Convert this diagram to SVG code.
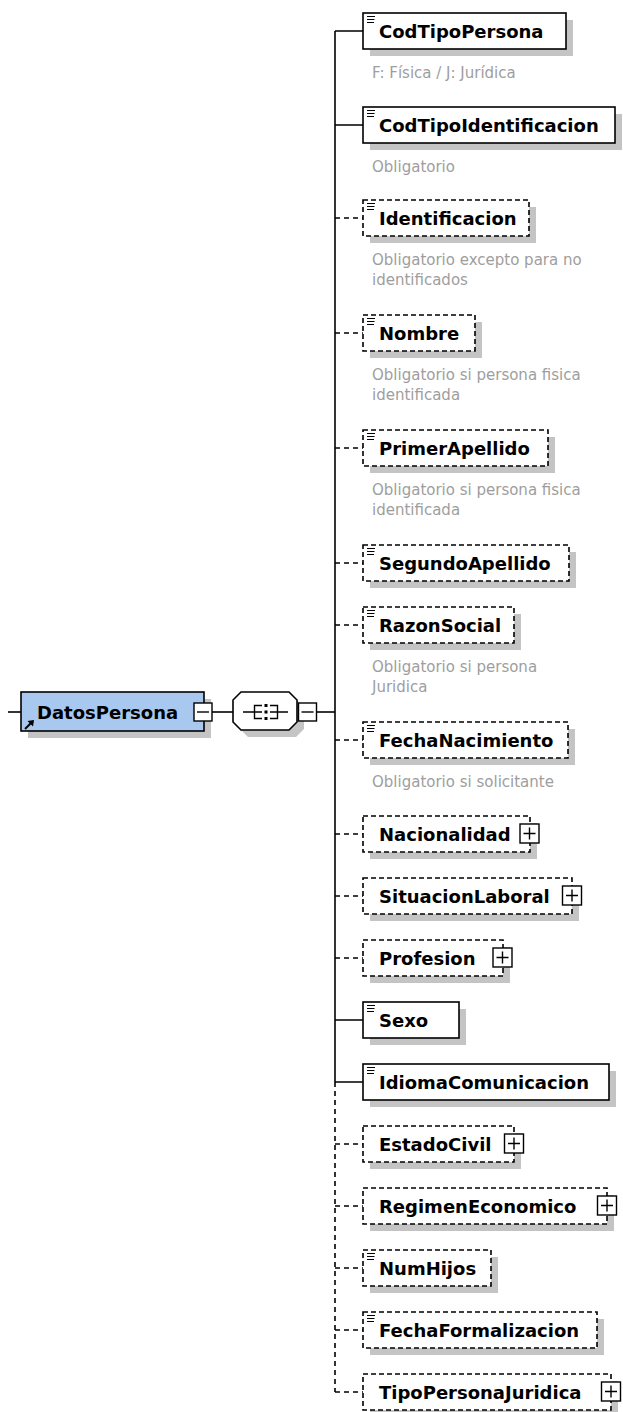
<svg xmlns="http://www.w3.org/2000/svg" xmlns:xlink="http://www.w3.org/1999/xlink" width="623" height="1412" viewBox="0 0 623 1412">
<style>
.box{fill:#fff;stroke:#000;stroke-width:1.6}
.root{fill:#a8c8f0;stroke:#000;stroke-width:1.6}
.opt{stroke-dasharray:5 3}
.sh{fill:#c4c4c4}
.lbl{font-family:"DejaVu Sans",Verdana,sans-serif;font-weight:bold;font-size:18px;fill:#000}
.cmt{font-family:"DejaVu Sans",Verdana,sans-serif;font-size:15px;fill:#9e9e9e}
.con{stroke:#000;stroke-width:1.6;fill:none}
.dash{stroke-dasharray:5 4}
.ic{stroke:#000;stroke-width:1.2;fill:none}
</style>
<defs>
<path id="ic" class="ic" d="M4 3.5h8M4 6.5h7.5M4 9.5h7"/>
<g id="plus"><rect x="-9.5" y="-9.5" width="19" height="19" fill="#fff" stroke="#000" stroke-width="1.4"/><path d="M-6 0h12M0 -6v12" stroke="#000" stroke-width="1.4"/></g>
<g id="minus"><rect x="-9" y="-9" width="18" height="18" fill="#fff" stroke="#000" stroke-width="1.4"/><path d="M-6 0h12" stroke="#000" stroke-width="1.4"/></g>
</defs>
<rect width="623" height="1412" fill="#fff"/>

<g id="connectors">
<path class="con" d="M8 712H21"/>
<path class="con" d="M212 712H233"/>
<path class="con" d="M317 712H335"/>
<path class="con" d="M335 31V1082"/>
<path class="con dash" d="M335 1082V1392"/>
<path class="con" d="M335 31H363M335 125H363M335 1020H363M335 1082H363"/>
<path class="con dash" d="M335 218H363M335 333H363M335 448H363M335 563H363M335 625H363M335 740H363M335 834H363M335 896H363M335 958H363M335 1144H363M335 1206H363M335 1268H363M335 1330H363M335 1392H363"/>
</g>

<g id="n-DatosPersona">
<rect class="sh" x="28" y="699" width="183" height="39"/>
<rect class="root" x="21" y="692" width="183" height="39"/>
<path d="M25 729L31 723" stroke="#000" stroke-width="2"/>
<polygon points="34,720 27.5,721 33,726.5" fill="#000"/>
<text class="lbl" x="37" y="718.5">DatosPersona</text>
<use href="#minus" x="203" y="712"/>
</g>

<g id="n-sequence">
<polygon class="sh" points="248,699 296,699 304,707 304,729 296,737 248,737 240,729 240,707"/>
<polygon class="box" points="241,692 289,692 297,700 297,722 289,730 241,730 233,722 233,700"/>
<path d="M243 712H262M262 705.5H254.5V718.5H262M270 712H288M270 705.5H277.5V718.5H270" stroke="#000" stroke-width="1.4" fill="none"/>
<rect x="264.5" y="704" width="3" height="3" fill="#000"/>
<rect x="264.5" y="710.5" width="3" height="3" fill="#000"/>
<rect x="264.5" y="717" width="3" height="3" fill="#000"/>
<use href="#minus" x="307.5" y="712"/>
</g>

<g id="n-CodTipoPersona">
<rect class="sh" x="370" y="20" width="203" height="36"/>
<rect class="box" x="363" y="13" width="203" height="36"/>
<use href="#ic" x="363" y="13"/>
<text class="lbl" x="379" y="37.5">CodTipoPersona</text>
<text class="cmt" x="372" y="78">F: Física / J: Jurídica</text>
</g>

<g id="n-CodTipoIdentificacion">
<rect class="sh" x="370" y="114" width="252" height="36"/>
<rect class="box" x="363" y="107" width="252" height="36"/>
<use href="#ic" x="363" y="107"/>
<text class="lbl" x="379" y="131.5">CodTipoIdentificacion</text>
<text class="cmt" x="372" y="172">Obligatorio</text>
</g>

<g id="n-Identificacion">
<rect class="sh" x="370" y="207" width="166" height="36"/>
<rect class="box opt" x="363" y="200" width="166" height="36"/>
<use href="#ic" x="363" y="200"/>
<text class="lbl" x="379" y="224.5">Identificacion</text>
<text class="cmt" x="372" y="265">Obligatorio excepto para no</text>
<text class="cmt" x="372" y="285">identificados</text>
</g>

<g id="n-Nombre">
<rect class="sh" x="370" y="322" width="112" height="36"/>
<rect class="box opt" x="363" y="315" width="112" height="36"/>
<use href="#ic" x="363" y="315"/>
<text class="lbl" x="379" y="339.5">Nombre</text>
<text class="cmt" x="372" y="380">Obligatorio si persona fisica</text>
<text class="cmt" x="372" y="400">identificada</text>
</g>

<g id="n-PrimerApellido">
<rect class="sh" x="370" y="437" width="185" height="36"/>
<rect class="box opt" x="363" y="430" width="185" height="36"/>
<use href="#ic" x="363" y="430"/>
<text class="lbl" x="379" y="454.5">PrimerApellido</text>
<text class="cmt" x="372" y="495">Obligatorio si persona fisica</text>
<text class="cmt" x="372" y="515">identificada</text>
</g>

<g id="n-SegundoApellido">
<rect class="sh" x="370" y="552" width="206" height="36"/>
<rect class="box opt" x="363" y="545" width="206" height="36"/>
<use href="#ic" x="363" y="545"/>
<text class="lbl" x="379" y="569.5">SegundoApellido</text>
</g>

<g id="n-RazonSocial">
<rect class="sh" x="370" y="614" width="151" height="36"/>
<rect class="box opt" x="363" y="607" width="151" height="36"/>
<use href="#ic" x="363" y="607"/>
<text class="lbl" x="379" y="631.5">RazonSocial</text>
<text class="cmt" x="372" y="672">Obligatorio si persona</text>
<text class="cmt" x="372" y="692">Juridica</text>
</g>

<g id="n-FechaNacimiento">
<rect class="sh" x="370" y="729" width="205" height="36"/>
<rect class="box opt" x="363" y="722" width="205" height="36"/>
<use href="#ic" x="363" y="722"/>
<text class="lbl" x="379" y="746.5">FechaNacimiento</text>
<text class="cmt" x="372" y="787">Obligatorio si solicitante</text>
</g>

<g id="n-Nacionalidad">
<rect class="sh" x="370" y="823" width="167" height="36"/>
<rect class="box opt" x="363" y="816" width="167" height="36"/>
<text class="lbl" x="379" y="840.5">Nacionalidad</text>
<use href="#plus" x="529.5" y="833.5"/>
</g>

<g id="n-SituacionLaboral">
<rect class="sh" x="370" y="885" width="209" height="36"/>
<rect class="box opt" x="363" y="878" width="209" height="36"/>
<text class="lbl" x="379" y="902.5">SituacionLaboral</text>
<use href="#plus" x="572" y="895.5"/>
</g>

<g id="n-Profesion">
<rect class="sh" x="370" y="947" width="140" height="36"/>
<rect class="box opt" x="363" y="940" width="140" height="36"/>
<text class="lbl" x="379" y="964.5">Profesion</text>
<use href="#plus" x="502.5" y="957.5"/>
</g>

<g id="n-Sexo">
<rect class="sh" x="370" y="1009" width="96" height="36"/>
<rect class="box" x="363" y="1002" width="96" height="36"/>
<use href="#ic" x="363" y="1002"/>
<text class="lbl" x="379" y="1026.5">Sexo</text>
</g>

<g id="n-IdiomaComunicacion">
<rect class="sh" x="370" y="1071" width="246" height="36"/>
<rect class="box" x="363" y="1064" width="246" height="36"/>
<use href="#ic" x="363" y="1064"/>
<text class="lbl" x="379" y="1088.5">IdiomaComunicacion</text>
</g>

<g id="n-EstadoCivil">
<rect class="sh" x="370" y="1133" width="151" height="36"/>
<rect class="box opt" x="363" y="1126" width="151" height="36"/>
<text class="lbl" x="379" y="1150.5">EstadoCivil</text>
<use href="#plus" x="514" y="1143.5"/>
</g>

<g id="n-RegimenEconomico">
<rect class="sh" x="370" y="1195" width="244" height="36"/>
<rect class="box opt" x="363" y="1188" width="244" height="36"/>
<text class="lbl" x="379" y="1212.5">RegimenEconomico</text>
<use href="#plus" x="607" y="1205.5"/>
</g>

<g id="n-NumHijos">
<rect class="sh" x="370" y="1257" width="128" height="36"/>
<rect class="box opt" x="363" y="1250" width="128" height="36"/>
<use href="#ic" x="363" y="1250"/>
<text class="lbl" x="379" y="1274.5">NumHijos</text>
</g>

<g id="n-FechaFormalizacion">
<rect class="sh" x="370" y="1319" width="234" height="36"/>
<rect class="box opt" x="363" y="1312" width="234" height="36"/>
<use href="#ic" x="363" y="1312"/>
<text class="lbl" x="379" y="1336.5">FechaFormalizacion</text>
</g>

<g id="n-TipoPersonaJuridica">
<rect class="sh" x="370" y="1381" width="248" height="36"/>
<rect class="box opt" x="363" y="1374" width="248" height="36"/>
<text class="lbl" x="379" y="1398.5">TipoPersonaJuridica</text>
<use href="#plus" x="611" y="1391.5"/>
</g>
</svg>
